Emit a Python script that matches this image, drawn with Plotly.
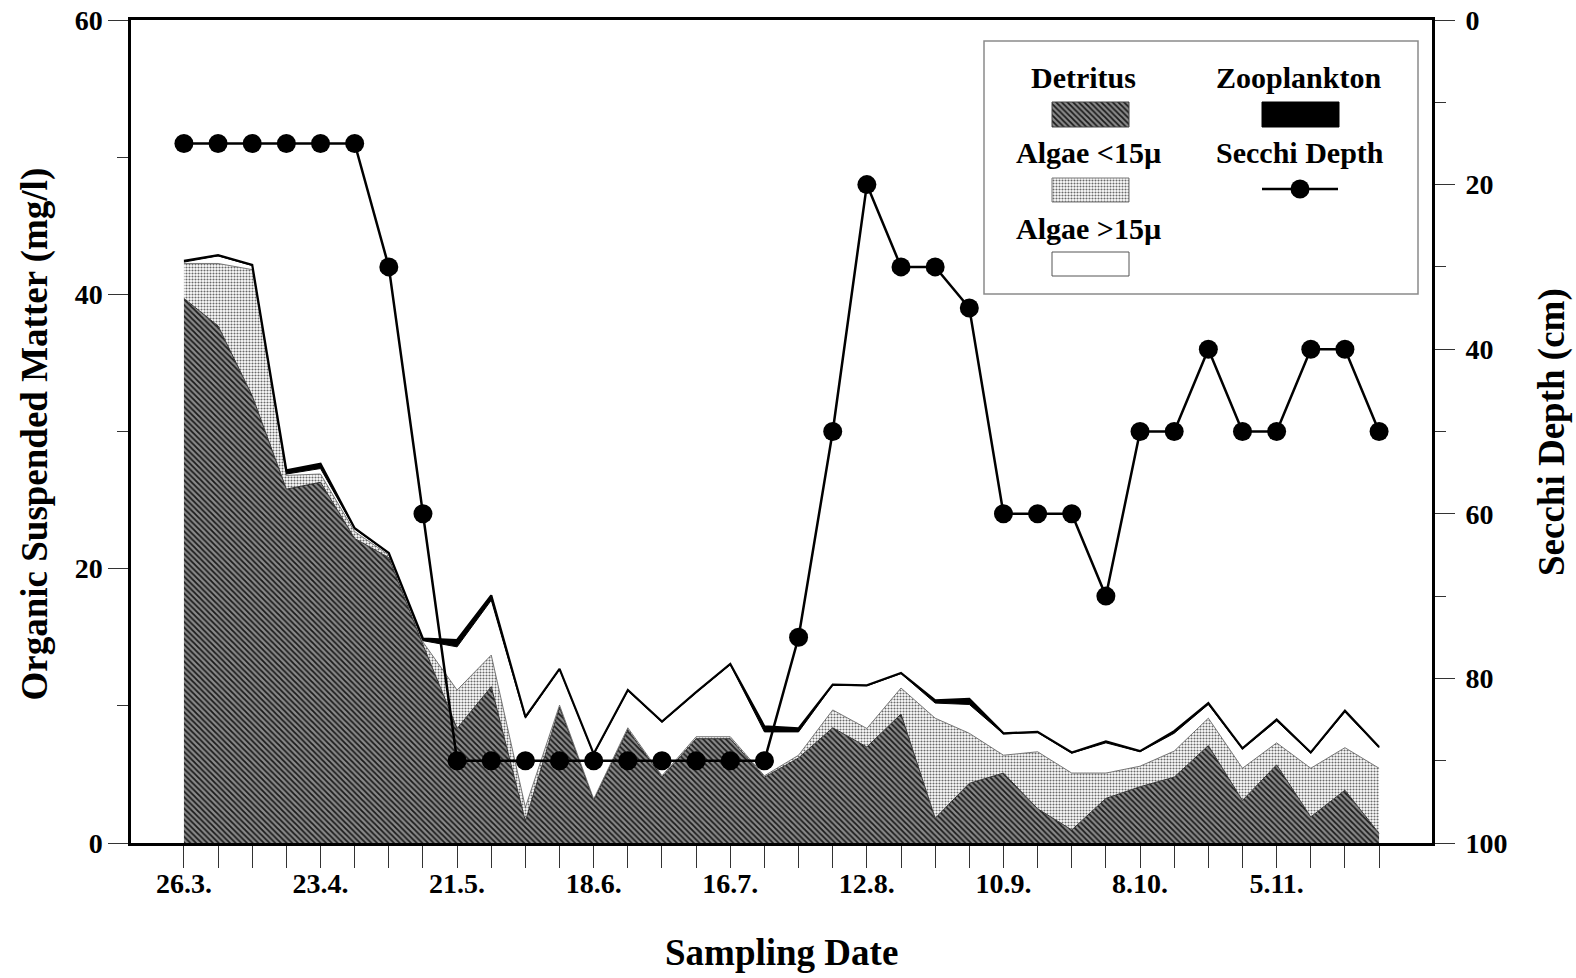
import plotly.graph_objects as go

# ---------------- data ----------------
sample = list(range(1, 37))
label_samples = [1, 5, 9, 13, 17, 21, 25, 29, 33]
date_labels = ["26.3.", "23.4.", "21.5.", "18.6.", "16.7.", "12.8.", "10.9.", "8.10.", "5.11."]

detritus = [39.7, 37.7, 32.6, 25.8, 26.3, 22.2, 20.8, 14.45, 8.35, 11.4,
            1.6, 9.9, 3.1, 8.25, 4.8, 7.6, 7.6, 4.8, 6.2, 8.4,
            7.0, 9.4, 1.8, 4.35, 5.1, 2.5, 0.95, 3.25, 4.1, 4.8,
            7.1, 3.1, 5.7, 1.9, 3.85, 0.7]
algae_small = [2.55, 4.55, 9.2, 1.0, 0.6, 0.5, 0.2, 0.2, 2.8, 2.3,
               1.0, 0.15, 0.1, 0.15, 0.1, 0.15, 0.15, 0.1, 0.2, 1.3,
               1.35, 1.9, 7.3, 3.65, 1.3, 4.15, 4.15, 1.85, 1.5, 1.9,
               2.0, 2.35, 1.6, 3.55, 3.1, 4.75]
algae_large = [0.1, 0.55, 0.3, 0.1, 0.4, 0.2, 0.1, 0.1, 3.15, 4.0,
               6.5, 2.6, 3.25, 2.7, 3.9, 3.2, 5.25, 3.2, 1.7, 1.8,
               3.1, 1.05, 1.1, 2.1, 1.55, 1.4, 1.45, 2.2, 1.05, 1.3,
               1.0, 1.4, 1.6, 1.1, 2.6, 1.5]
zooplankton = [0.1, 0.05, 0.05, 0.27, 0.35, 0.05, 0.05, 0.15, 0.5, 0.35,
               0.1, 0.05, 0.05, 0.05, 0.05, 0.05, 0.05, 0.4, 0.25, 0.05,
               0.05, 0.05, 0.2, 0.4, 0.05, 0.05, 0.05, 0.1, 0.05, 0.15,
               0.1, 0.05, 0.1, 0.05, 0.1, 0.05]
secchi = [15, 15, 15, 15, 15, 15, 30, 60, 90, 90,
          90, 90, 90, 90, 90, 90, 90, 90, 75, 50,
          20, 30, 30, 35, 60, 60, 60, 70, 50, 50,
          40, 50, 50, 40, 40, 50]

ticktext = [date_labels[label_samples.index(s)] if s in label_samples else "" for s in sample]

# ---------------- geometry helpers (pixel -> paper) ----------------
L, R, T, B = 131, 1432, 20, 843
W, H = 1576, 978
def px(x):
    return (x - L) / (R - L)
def py(y):
    return (B - y) / (B - T)

FONT = "Liberation Serif"
det_pattern = dict(shape="\\", bgcolor="#8a8a8a", fgcolor="#1a1a1a", size=4, solidity=0.45, fillmode="replace")
alg_pattern = dict(shape=".", bgcolor="#ffffff", fgcolor="#6a6a6a", size=3, solidity=0.4, fillmode="replace")

fig = go.Figure()
fig.add_trace(go.Scatter(x=sample, y=detritus, stackgroup="osm", mode="lines",
                         line=dict(color="#333333", width=1), fillpattern=det_pattern,
                         showlegend=False, name="Detritus"))
fig.add_trace(go.Scatter(x=sample, y=algae_small, stackgroup="osm", mode="lines",
                         line=dict(color="#555555", width=0.8), fillpattern=alg_pattern,
                         showlegend=False, name="Algae <15µ"))
fig.add_trace(go.Scatter(x=sample, y=algae_large, stackgroup="osm", mode="lines",
                         line=dict(color="#000000", width=1), fillcolor="#ffffff",
                         showlegend=False, name="Algae >15µ"))
fig.add_trace(go.Scatter(x=sample, y=zooplankton, stackgroup="osm", mode="lines",
                         line=dict(color="#000000", width=2.2), fillcolor="#000000",
                         showlegend=False, name="Zooplankton"))
fig.add_trace(go.Scatter(x=sample, y=secchi, yaxis="y2", mode="lines+markers",
                         line=dict(color="#000000", width=2.5),
                         marker=dict(color="#000000", size=19),
                         showlegend=False, name="Secchi Depth"))

# ---------------- legend swatches (decoration on pixel-space helper axes) ----------------
def rect(x0, y0, x1, y1, **kw):
    fig.add_trace(go.Scatter(x=[x0, x1, x1, x0, x0], y=[y0, y0, y1, y1, y0],
                             xaxis="x3", yaxis="y3", mode="lines", fill="toself",
                             showlegend=False, hoverinfo="skip", **kw))

rect(1052, 102, 1129, 127, line=dict(color="#444", width=1), fillpattern=det_pattern)
rect(1052, 178, 1129, 202, line=dict(color="#777", width=1), fillpattern=alg_pattern)
rect(1052, 252, 1129, 276, line=dict(color="#555", width=1), fillcolor="white")
rect(1262, 102, 1339, 127, line=dict(color="black", width=1), fillcolor="black")
fig.add_trace(go.Scatter(x=[1262, 1338], y=[189, 189], xaxis="x3", yaxis="y3", mode="lines",
                         line=dict(color="black", width=2.5), showlegend=False, hoverinfo="skip"))
fig.add_trace(go.Scatter(x=[1300], y=[189], xaxis="x3", yaxis="y3", mode="markers",
                         marker=dict(color="black", size=19), showlegend=False, hoverinfo="skip"))

# ---------------- annotations ----------------
ann = []
def text(t, x, y, size, angle=0):
    ann.append(dict(text=t, xref="paper", yref="paper", x=px(x), y=py(y),
                    xanchor="center", yanchor="middle", showarrow=False, textangle=angle,
                    font=dict(family=FONT, size=size, color="black", weight="bold")))

text("Sampling Date", 781, 952, 37)
text("Organic Suspended Matter (mg/l)", 34.5, 434, 37, -90)
text("Secchi Depth (cm)", 1552, 432, 37, -90)
text("Detritus", 1083, 78, 30)
text("Algae &lt;15µ", 1088, 153, 30)
text("Algae &gt;15µ", 1088, 229, 30)
text("Zooplankton", 1298, 78, 30)
text("Secchi Depth", 1300, 153, 30)

tickfont = dict(family=FONT, size=28, color="black", weight="bold")

fig.update_layout(
    template="none",
    width=W, height=H,
    margin=dict(l=L, r=W - R, t=T, b=H - B, pad=0, autoexpand=False),
    paper_bgcolor="white", plot_bgcolor="white",
    showlegend=False,
    annotations=ann,
    shapes=[dict(type="rect", xref="paper", yref="paper",
                 x0=px(984), x1=px(1418), y0=py(294), y1=py(41),
                 line=dict(color="#8a8a8a", width=1.5), fillcolor="white", layer="below")],
    xaxis=dict(range=[-0.55, 37.55], tickmode="array", tickvals=sample, ticktext=ticktext,
               ticks="outside", ticklen=22, tickwidth=1, tickcolor="#333",
               showline=True, linewidth=3, linecolor="black", mirror=True, automargin=False,
               showgrid=False, zeroline=False, tickfont=tickfont, ticklabelstandoff=-9),
    yaxis=dict(range=[0, 60], tickmode="array", tickvals=[0, 20, 40, 60],
               ticks="outside", ticklen=20, tickwidth=1, tickcolor="#333",
               minor=dict(tickmode="array", tickvals=[10, 30, 50], ticks="outside",
                          ticklen=11, tickwidth=1, tickcolor="#333"),
               showline=True, linewidth=2.5, linecolor="black", automargin=False,
               showgrid=False, zeroline=False, tickfont=tickfont, ticklabelstandoff=0),
    yaxis2=dict(range=[100, 0], overlaying="y", side="right", anchor="x",
                tickmode="array", tickvals=[0, 20, 40, 60, 80, 100],
                ticks="outside", ticklen=20, tickwidth=1, tickcolor="#333",
                minor=dict(tickmode="array", tickvals=[10, 30, 50, 70, 90], ticks="outside",
                           ticklen=11, tickwidth=1, tickcolor="#333"),
                showline=True, linewidth=3, linecolor="black", automargin=False,
                showgrid=False, zeroline=False, tickfont=tickfont, ticklabelstandoff=5),
    xaxis3=dict(range=[L, R], overlaying="x", anchor="y3", visible=False, fixedrange=True, automargin=False),
    yaxis3=dict(range=[B, T], overlaying="y", anchor="x3", visible=False, fixedrange=True, automargin=False),
)

fig.write_html("out.html")
